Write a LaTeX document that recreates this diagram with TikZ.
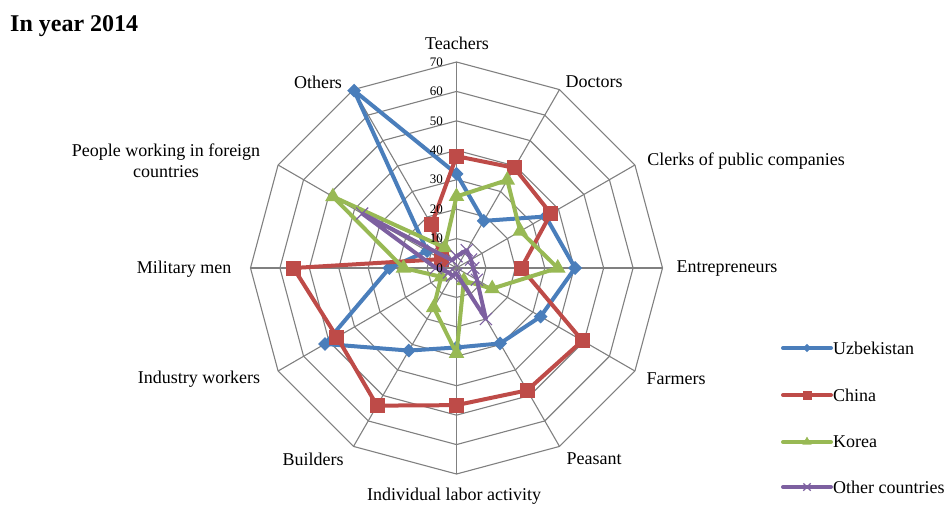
\documentclass[tikz,border=0pt]{standalone}
\usepackage{fontspec}
\setmainfont{Liberation Serif}
\usetikzlibrary{shapes.geometric,shapes.misc}
\definecolor{uzb}{HTML}{4A7EBB}
\definecolor{chn}{HTML}{BE4B48}
\definecolor{kor}{HTML}{98B954}
\definecolor{oth}{HTML}{7D60A0}
\definecolor{gridc}{HTML}{808080}
\newcommand\plotseries[4]{%
  \foreach \v [count=\i from 0] in {#3} {\coordinate (#1\i) at (90-30*\i:\v*2.942857);}
  \draw[#2, line width=4pt, line join=round] (#10) \foreach \i in {1,...,11}{-- (#1\i)} -- cycle;
  \foreach \i in {0,...,11} {\node[#4] (#1m\i) at (#1\i) {};}
}
\begin{document}
\begin{tikzpicture}[x=1pt,y=1pt,
  lbl/.style={font=\fontsize{18}{21}\selectfont, inner sep=0pt, align=center},
  num/.style={font=\fontsize{13}{14}\selectfont, inner sep=0pt, anchor=east},
  mkU/.style={diamond, fill=uzb, minimum size=14pt, inner sep=0pt},
  mkC/.style={rectangle, fill=chn, minimum size=15pt, inner sep=0pt},
  mkK/.style={regular polygon, regular polygon sides=3, fill=kor, minimum size=18pt, inner sep=0pt},
  mkO/.style={cross out, draw=oth, minimum size=11pt, inner sep=0pt, line width=1.1pt},
  grd/.style={draw=gridc, line width=1.1pt}]
\useasboundingbox (0,0) rectangle (947,-506);
\node[anchor=base west, font=\bfseries\fontsize{24}{26}\selectfont, inner sep=0pt] (title) at (10,-31.5) {In year 2014};
\begin{scope}[shift={(456.5,-268)}]
  \foreach \k in {1,...,7}
    \draw[grd] (90:\k*29.43) \foreach \i in {1,...,11}{-- (90-30*\i:\k*29.43)} -- cycle;
  \coordinate (c) at (0,0);
  \foreach \i in {0,...,11} {\coordinate (ax\i) at (90-30*\i:206); \draw[grd] (c) -- (ax\i);}
  \plotseries{u}{uzb}{32,18.5,35,40.3,33,29.6,27,32.4,51.6,22.8,11.5,69.6}{mkU}
  \plotseries{h}{chn}{38,39.3,37,22,49.4,48,46.6,54,46.9,55.4,6,17}{mkC}
  \plotseries{k}{kor}{24.3,34.5,25,34.4,14,5,29,15.5,6,18,48.5,8}{mkK}
  \plotseries{o}{oth}{4,7,5.7,5.7,8,20,2,3,3,7,37,3}{mkO}
  \foreach \k in {0,...,7} {\node[num] (n\k) at (-13.5,\k*29.43) {\the\numexpr\k*10\relax};}
\end{scope}
\node[lbl] (l0) at (457,-43) {Teachers};
\node[lbl] (l1) at (594,-82) {Doctors};
\node[lbl] (l2) at (746,-161) {Clerks of public companies};
\node[lbl] (l3) at (727,-269) {Entrepreneurs};
\node[lbl] (l4) at (676,-379) {Farmers};
\node[lbl] (l5) at (594,-459) {Peasant};
\node[lbl] (l6) at (454,-496) {Individual labor activity};
\node[lbl] (l7) at (313,-459) {Builders};
\node[lbl] (l8) at (199,-379) {Industry workers};
\node[lbl] (l9) at (184,-269) {Military men};
\node[lbl] (l10) at (166,-160.5) {People working in foreign\\countries};
\node[lbl] (l11) at (318,-82) {Others};
% legend
\foreach \y/\c/\m/\t [count=\j] in {-348/uzb/mkU/Uzbekistan,-395/chn/mkC/China,-442/kor/mkK/Korea,-487/oth/mkO/Other countries}{
  \coordinate (la\j) at (783,\y);
  \coordinate (lb\j) at (831,\y);
  \draw[\c, line width=4pt, line cap=round] (la\j) -- (lb\j);
  \node[\m, scale=0.6] (lm\j) at (807,\y) {};
  \node[lbl, anchor=west] (lt\j) at (833,\y) {\t};
}
\end{tikzpicture}
\end{document}
